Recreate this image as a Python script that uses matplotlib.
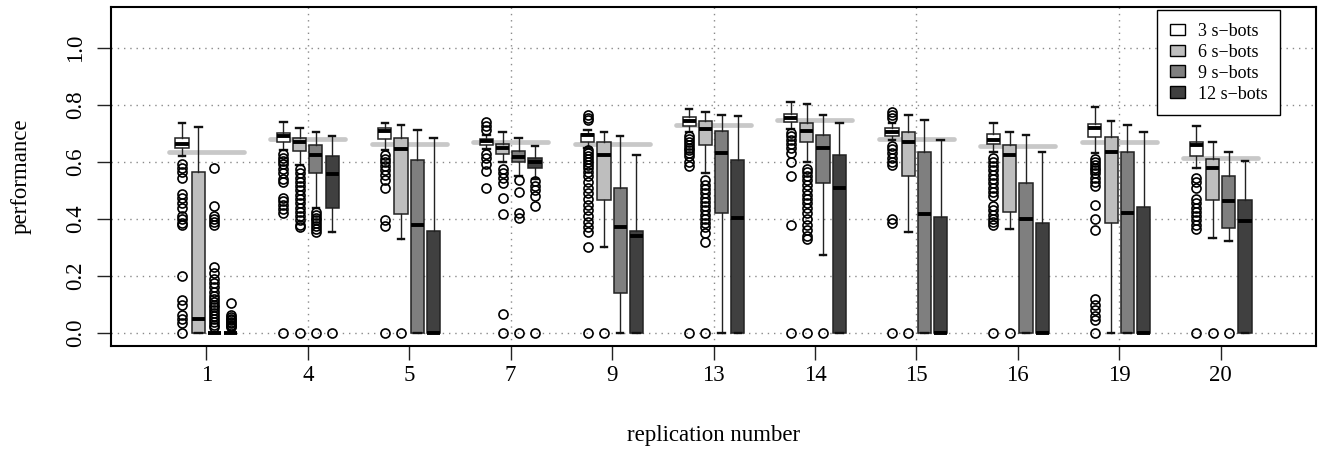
import matplotlib
matplotlib.use("Agg")
import matplotlib.pyplot as plt
from matplotlib.patches import Patch

# ---------------- data ----------------
replications = [1, 4, 5, 7, 9, 13, 14, 15, 16, 19, 20]
series_names = ["3 s\u2212bots", "6 s\u2212bots", "9 s\u2212bots", "12 s\u2212bots"]
reference = [0.635, 0.680, 0.664, 0.668, 0.662, 0.729, 0.746, 0.679, 0.656, 0.668, 0.615]

# 3 s-bots
s3_whishi = [0.735, 0.738, 0.736, 0.695, 0.710, 0.785, 0.808, 0.735, 0.736, 0.791, 0.724]
s3_q3     = [0.683, 0.700, 0.717, 0.680, 0.699, 0.758, 0.767, 0.720, 0.697, 0.732, 0.668]
s3_med    = [0.661, 0.691, 0.709, 0.672, 0.693, 0.744, 0.753, 0.706, 0.677, 0.717, 0.660]
s3_q1     = [0.647, 0.670, 0.680, 0.659, 0.671, 0.726, 0.738, 0.691, 0.662, 0.686, 0.621]
s3_whislo = [0.620, 0.640, 0.640, 0.645, 0.650, 0.705, 0.715, 0.675, 0.635, 0.630, 0.580]
s3_fliers = [
    [0.592, 0.580, 0.566, 0.545, 0.489, 0.473, 0.457, 0.440, 0.410, 0.398, 0.387, 0.379,
     0.200, 0.115, 0.098, 0.065, 0.048, 0.036, 0.0],
    [0.627, 0.615, 0.604, 0.592, 0.574, 0.562, 0.539, 0.528, 0.475, 0.463, 0.449, 0.434, 0.422, 0.0],
    [0.625, 0.610, 0.600, 0.585, 0.570, 0.555, 0.535, 0.510, 0.395, 0.375, 0.0],
    [0.741, 0.726, 0.711, 0.629, 0.613, 0.592, 0.568, 0.509],
    [0.765, 0.755, 0.745, 0.640, 0.630, 0.620, 0.610, 0.600, 0.590, 0.580, 0.565, 0.550,
     0.530, 0.510, 0.490, 0.470, 0.450, 0.430, 0.410, 0.390, 0.370, 0.355, 0.300, 0.0],
    [0.690, 0.680, 0.670, 0.660, 0.650, 0.640, 0.630, 0.620, 0.600, 0.585, 0.0],
    [0.700, 0.690, 0.675, 0.662, 0.650, 0.630, 0.600, 0.550, 0.379, 0.0],
    [0.775, 0.765, 0.755, 0.655, 0.645, 0.630, 0.615, 0.600, 0.590, 0.400, 0.385, 0.0],
    [0.615, 0.600, 0.585, 0.570, 0.555, 0.540, 0.525, 0.510, 0.495, 0.480, 0.445, 0.430,
     0.415, 0.400, 0.390, 0.380, 0.0],
    [0.610, 0.600, 0.590, 0.580, 0.570, 0.560, 0.545, 0.530, 0.515, 0.450, 0.400, 0.360,
     0.120, 0.100, 0.080, 0.060, 0.045, 0.0],
    [0.545, 0.530, 0.510, 0.470, 0.455, 0.440, 0.425, 0.410, 0.395, 0.380, 0.365, 0.0],
]

# 6 s-bots
s6_whishi = [0.723, 0.717, 0.730, 0.703, 0.705, 0.775, 0.802, 0.764, 0.705, 0.744, 0.670]
s6_q3     = [0.563, 0.685, 0.682, 0.662, 0.671, 0.742, 0.736, 0.703, 0.660, 0.688, 0.609]
s6_med    = [0.048, 0.668, 0.645, 0.647, 0.625, 0.715, 0.709, 0.668, 0.625, 0.635, 0.577]
s6_q1     = [0.000, 0.639, 0.416, 0.627, 0.466, 0.660, 0.668, 0.550, 0.426, 0.387, 0.466]
s6_whislo = [0.000, 0.590, 0.331, 0.600, 0.303, 0.560, 0.600, 0.355, 0.366, 0.000, 0.334]
s6_fliers = [
    [],
    [0.575, 0.560, 0.545, 0.530, 0.515, 0.500, 0.485, 0.470, 0.455, 0.440, 0.425, 0.410,
     0.395, 0.380, 0.370, 0.0],
    [0.0],
    [0.574, 0.562, 0.545, 0.527, 0.475, 0.417, 0.066, 0.0],
    [0.0],
    [0.535, 0.520, 0.505, 0.490, 0.475, 0.460, 0.445, 0.430, 0.415, 0.400, 0.385, 0.370,
     0.350, 0.320, 0.0],
    [0.575, 0.565, 0.550, 0.535, 0.520, 0.500, 0.485, 0.470, 0.455, 0.440, 0.420, 0.400,
     0.380, 0.360, 0.340, 0.330, 0.0],
    [0.0],
    [0.0],
    [],
    [0.0],
]

# 9 s-bots
s9_whishi = [0.000, 0.705, 0.712, 0.685, 0.691, 0.764, 0.765, 0.747, 0.693, 0.729, 0.633]
s9_q3     = [0.000, 0.658, 0.606, 0.638, 0.510, 0.707, 0.693, 0.635, 0.527, 0.636, 0.549]
s9_med    = [0.000, 0.624, 0.378, 0.617, 0.370, 0.630, 0.647, 0.416, 0.401, 0.420, 0.463]
s9_q1     = [0.000, 0.562, 0.000, 0.600, 0.142, 0.420, 0.525, 0.000, 0.000, 0.000, 0.367]
s9_whislo = [0.000, 0.440, 0.000, 0.551, 0.000, 0.000, 0.274, 0.000, 0.000, 0.000, 0.323]
s9_fliers = [
    [0.577, 0.446, 0.410, 0.400, 0.390, 0.380, 0.230, 0.210, 0.190, 0.175, 0.160, 0.145,
     0.130, 0.120, 0.110, 0.100, 0.090, 0.080, 0.070, 0.060, 0.050, 0.040, 0.030, 0.020],
    [0.425, 0.415, 0.405, 0.395, 0.385, 0.375, 0.365, 0.355, 0.0],
    [],
    [0.536, 0.495, 0.420, 0.405, 0.0],
    [],
    [],
    [0.0],
    [],
    [],
    [],
    [0.0],
]

# 12 s-bots
s12_whishi = [0.000, 0.689, 0.683, 0.656, 0.625, 0.759, 0.737, 0.677, 0.636, 0.705, 0.604]
s12_q3     = [0.000, 0.621, 0.358, 0.613, 0.358, 0.607, 0.625, 0.408, 0.385, 0.442, 0.466]
s12_med    = [0.000, 0.557, 0.000, 0.598, 0.340, 0.404, 0.509, 0.000, 0.000, 0.000, 0.393]
s12_q1     = [0.000, 0.440, 0.000, 0.578, 0.000, 0.000, 0.000, 0.000, 0.000, 0.000, 0.000]
s12_whislo = [0.000, 0.354, 0.000, 0.540, 0.000, 0.000, 0.000, 0.000, 0.000, 0.000, 0.000]
s12_fliers = [
    [0.105, 0.065, 0.058, 0.050, 0.045, 0.040, 0.035, 0.030, 0.025, 0.020],
    [0.0],
    [],
    [0.533, 0.515, 0.500, 0.480, 0.446, 0.0],
    [],
    [],
    [],
    [],
    [],
    [],
    [],
]

series = [
    (s3_whislo, s3_q1, s3_med, s3_q3, s3_whishi, s3_fliers),
    (s6_whislo, s6_q1, s6_med, s6_q3, s6_whishi, s6_fliers),
    (s9_whislo, s9_q1, s9_med, s9_q3, s9_whishi, s9_fliers),
    (s12_whislo, s12_q1, s12_med, s12_q3, s12_whishi, s12_fliers),
]
fill_colors = ["#ffffff", "#bebebe", "#7f7f7f", "#404040"]

# ---------------- figure ----------------
plt.rcParams['font.family'] = ['Liberation Serif', 'DejaVu Serif']
W, H = 1322, 454
fig = plt.figure(figsize=(W / 100, H / 100), dpi=100)
ax_l, ax_r, ax_t, ax_b = 111, 1316, 6.5, 345.7
ax = fig.add_axes([ax_l / W, (H - ax_b) / H, (ax_r - ax_l) / W, (ax_b - ax_t) / H])

n = len(replications)
group_pos = list(range(1, n + 1))
offsets = [-0.24, -0.08, 0.08, 0.24]
box_w = 0.13

# grid
for gx in [2, 4, 6, 8, 10]:
    ax.axvline(gx, color="#8a8a8a", lw=1.0, ls=(0, (1, 3.5)), zorder=0)
for gy in [0.0, 0.2, 0.4, 0.6, 0.8, 1.0]:
    ax.axhline(gy, color="#8a8a8a", lw=1.0, ls=(0, (1, 3.5)), zorder=0)

# reference lines
ref = ax.hlines(reference, [p - 0.37 for p in group_pos], [p + 0.37 for p in group_pos],
                colors="#c8c8c8", lw=3.4, zorder=1)
ref.set_capstyle("round")

for si, (wlo, q1, med, q3, whi, fl) in enumerate(series):
    stats = []
    for i in range(n):
        stats.append(dict(whislo=wlo[i], q1=q1[i], med=med[i], q3=q3[i], whishi=whi[i],
                          fliers=fl[i]))
    pos = [p + offsets[si] for p in group_pos]
    ax.bxp(stats, positions=pos, widths=box_w, capwidths=box_w * 0.5,
           patch_artist=True, showfliers=True, manage_ticks=False, zorder=2,
           boxprops=dict(facecolor=fill_colors[si], edgecolor="#222222", lw=1.1),
           whiskerprops=dict(color="#222222", lw=1.0),
           capprops=dict(color="#111111", lw=1.7),
           medianprops=dict(color="black", lw=2.8, solid_capstyle="butt"),
           flierprops=dict(marker="o", markersize=6.5, markerfacecolor="none",
                           markeredgecolor="black", markeredgewidth=1.2, linestyle="none"))

ax.set_xlim(0.06, 11.94)
ax.set_ylim(-0.044, 1.144)
ax.set_xticks(group_pos)
ax.set_xticklabels([str(r) for r in replications])
ax.set_yticks([0.0, 0.2, 0.4, 0.6, 0.8, 1.0])
ax.set_yticklabels(["0.0", "0.2", "0.4", "0.6", "0.8", "1.0"], rotation=90, va="center")
ax.tick_params(axis="both", direction="out", length=10, width=1.0, labelsize=16.5,
               color="#222222")
ax.tick_params(axis="x", pad=4)
ax.tick_params(axis="y", pad=8)
for sp in ax.spines.values():
    sp.set_linewidth(1.5)

ax.set_xlabel("replication number", fontsize=16.5)
ax.xaxis.set_label_coords(((ax_l + ax_r) / 2 - ax_l) / (ax_r - ax_l), (ax_b - 435) / (ax_b - ax_t))
ax.xaxis.label.set_va("center")
ax.set_ylabel("performance", fontsize=16.5)
ax.yaxis.set_label_coords((21 - ax_l) / (ax_r - ax_l), 0.5)
ax.yaxis.label.set_va("center")

handles = [Patch(facecolor=c, edgecolor="black", lw=1.0) for c in fill_colors]
leg = ax.legend(handles, series_names, loc="upper right",
                bbox_to_anchor=((1280 - ax_l) / (ax_r - ax_l), (ax_b - 10) / (ax_b - ax_t)),
                borderaxespad=0, fontsize=13, fancybox=False, framealpha=1,
                edgecolor="black", handlelength=0.85, handleheight=0.6, labelspacing=0.22,
                handletextpad=0.7, borderpad=0.7)
leg.get_frame().set_linewidth(1.0)

fig.savefig("out.png", dpi=100)
